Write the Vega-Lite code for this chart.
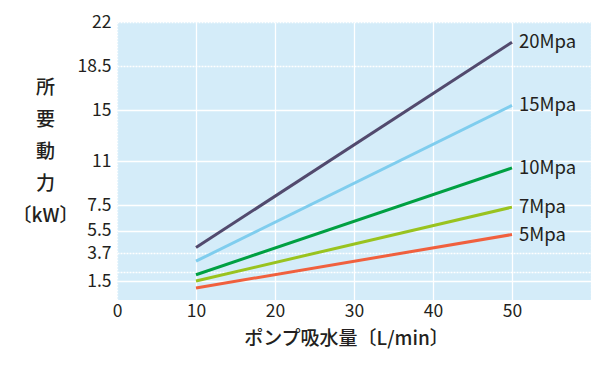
{
  "$schema": "https://vega.github.io/schema/vega-lite/v6.json",
  "autosize": "none",
  "width": 474,
  "height": 278,
  "padding": {"left": 117, "top": 22, "right": 9, "bottom": 73},
  "background": "white",
  "config": {
    "font": "Noto Sans CJK JP",
    "view": {"fill": "#d4ecf9", "stroke": null},
    "axis": {
      "domain": false,
      "ticks": false,
      "labelFlush": false,
      "gridColor": "white",
      "gridOpacity": 1,
      "gridWidth": 1.3,
      "labelFont": "Noto Sans CJK JP",
      "labelFontSize": 17.5,
      "labelColor": "#231f20",
      "titleFont": "Noto Sans CJK JP",
      "titleColor": "#231f20"
    }
  },
  "data": {
    "values": [
      {"flow": 10, "kw": 4.15, "p": "20Mpa"},
      {"flow": 50, "kw": 20.4, "p": "20Mpa"},
      {"flow": 10, "kw": 3.07, "p": "15Mpa"},
      {"flow": 50, "kw": 15.4, "p": "15Mpa"},
      {"flow": 10, "kw": 2.0, "p": "10Mpa"},
      {"flow": 50, "kw": 10.45, "p": "10Mpa"},
      {"flow": 10, "kw": 1.5, "p": "7Mpa"},
      {"flow": 50, "kw": 7.35, "p": "7Mpa"},
      {"flow": 10, "kw": 0.95, "p": "5Mpa"},
      {"flow": 50, "kw": 5.18, "p": "5Mpa"}
    ]
  },
  "encoding": {
    "x": {
      "field": "flow",
      "type": "quantitative",
      "scale": {"domain": [0, 60], "nice": false},
      "axis": {
        "values": [0, 10, 20, 30, 40, 50, 60],
        "labelExpr": "datum.value == 60 ? '' : datum.label",
        "labelPadding": 2,
        "gridDash": {"condition": {"test": "datum.value == 0 || datum.value == 60", "value": [2, 1]}, "value": []},
        "title": "ポンプ吸水量〔L/min〕",
        "titleFontSize": 19,
        "titleFontWeight": 500,
        "titlePadding": 10,
        "titleX": 229
      }
    },
    "y": {
      "field": "kw",
      "type": "quantitative",
      "scale": {"domain": [0, 22], "nice": false},
      "axis": {
        "values": [1.5, 2.2, 3.7, 5.5, 7.5, 11, 15, 18.5, 22],
        "labelExpr": "datum.value == 2.2 ? '' : '' + datum.value",
        "labelPadding": 6,
        "gridDash": {"condition": {"test": "datum.value == 2.2 || datum.value == 3.7 || datum.value == 18.5 || datum.value == 22", "value": [2, 1]}, "value": []},
        "title": ["所", "要", "動", "力", "〔kW〕"],
        "titleAngle": 0,
        "titleAlign": "center",
        "titleBaseline": "top",
        "titleX": -72,
        "titleY": 56,
        "titleFontSize": 19,
        "titleFontWeight": 500,
        "titleLineHeight": 32
      }
    }
  },
  "layer": [
    {
      "mark": {"type": "line", "strokeWidth": 3},
      "encoding": {
        "color": {
          "field": "p",
          "type": "nominal",
          "scale": {
            "domain": ["20Mpa", "15Mpa", "10Mpa", "7Mpa", "5Mpa"],
            "range": ["#524a6e", "#7fcdee", "#00a042", "#99c31f", "#f0603e"]
          },
          "legend": null
        }
      }
    },
    {
      "transform": [{"filter": "datum.flow == 50"}],
      "mark": {"type": "text", "align": "left", "dx": 7, "dy": 0, "fontSize": 18.5, "color": "#231f20", "baseline": "middle"},
      "encoding": {"text": {"field": "p"}}
    }
  ]
}
